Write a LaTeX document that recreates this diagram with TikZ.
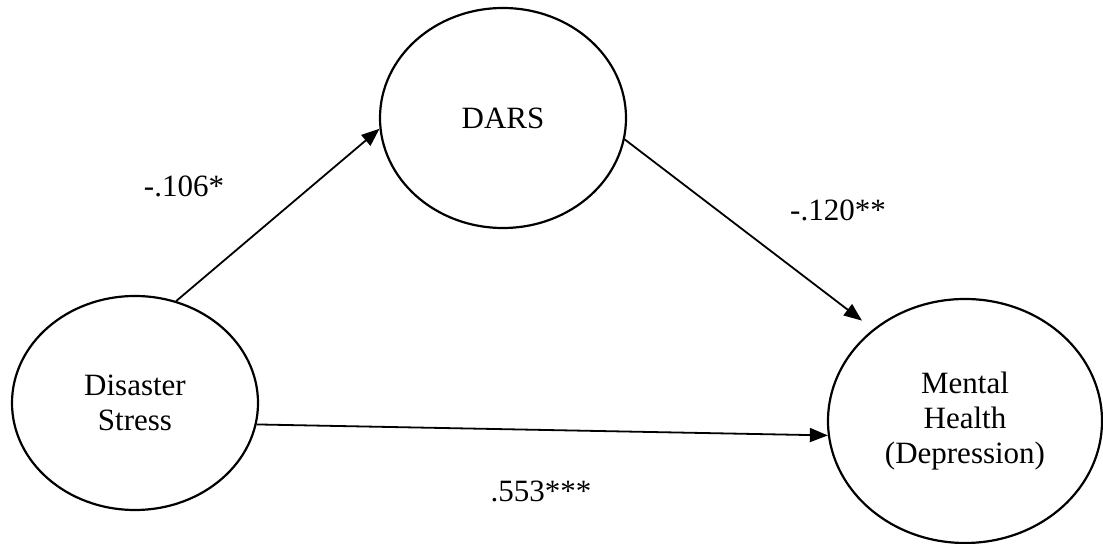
\documentclass[tikz,border=0pt]{standalone}
\usepackage{fontspec}
\setmainfont{Liberation Serif}
\usetikzlibrary{shapes.geometric,arrows.meta}
\tikzset{
  var/.style={draw, ellipse, line width=1.1pt, inner sep=0pt, align=center,
    font=\fontsize{15.5}{17.5}\selectfont},
  path/.style={line width=0.9pt, -{Triangle[length=9pt,width=7pt]}},
  coef/.style={font=\fontsize{15.5}{17.5}\selectfont, inner sep=0pt}
}
\begin{document}
\begin{tikzpicture}[x=0.5pt,y=-0.5pt]
\useasboundingbox (0,0) rectangle (1103,544);
\node[var, minimum width=123pt, minimum height=110pt] (dars) at (503,118) {DARS};
\node[var, minimum width=123pt, minimum height=107pt] (ds) at (135,403) {Disaster\\Stress};
\node[var, minimum width=137pt, minimum height=122pt] (mh) at (965,421) {Mental\\Health\\(Depression)};
\draw[path] (ds.68) -- (dars.185);
\draw[path, shorten >=7pt] (dars.-10) -- (mh.135.6);
\draw[path] (ds.-10.7) -- (mh.186.6);
\node[coef] (c1) at (184,186) {-.106*};
\node[coef] (c2) at (838,210) {-.120**};
\node[coef] (c3) at (541,491) {.553***};
\end{tikzpicture}
\end{document}
